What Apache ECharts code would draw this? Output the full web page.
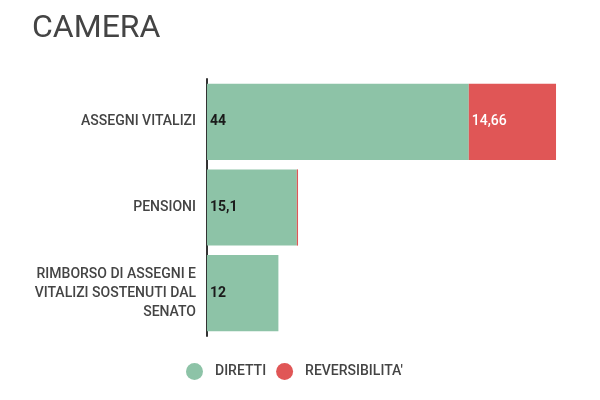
<!DOCTYPE html>
<html><head><meta charset="utf-8">
<script src="https://cdn.jsdelivr.net/npm/echarts@6/dist/echarts.min.js"></script>
<style>html,body{margin:0;padding:0;background:#fff}#c{width:600px;height:400px}</style>
</head><body><div id="c"></div>
<script>
const categories = ["ASSEGNI VITALIZI", "PENSIONI", "RIMBORSO DI ASSEGNI E\nVITALIZI SOSTENUTI DAL\nSENATO"];
const diretti = [44, 15.1, 12];
const reversibilita = [14.66, 0.2, 0];
const fmt = v => String(v).replace('.', ',');
const chart = echarts.init(document.getElementById('c'));
chart.setOption({
  animation: false,
  title: { text: 'CAMERA', left: 27, top: 8, textStyle: { fontFamily: 'Roboto', fontSize: 32, fontWeight: 'normal', color: '#444' } },
  legend: {
    bottom: 15, left: 181, itemWidth: 17, itemHeight: 17, itemGap: 10, icon: 'circle',
    textStyle: { fontFamily: 'Roboto', fontSize: 14, fontWeight: 500, color: '#444', padding: [0, 0, 0, 7] },
    data: ['DIRETTI', "REVERSIBILITA'"]
  },
  grid: { left: 207, right: 36, top: 79, bottom: 64 },
  xAxis: { type: 'value', min: 0, max: 60, show: false },
  yAxis: {
    type: 'category', inverse: true, data: categories,
    axisLine: { show: true, lineStyle: { color: '#333', width: 2 } },
    axisTick: { show: false },
    axisLabel: { fontFamily: 'Roboto', fontSize: 14, fontWeight: 500, color: '#444', align: 'right', lineHeight: 19, margin: 11 }
  },
  series: [
    { name: 'DIRETTI', type: 'bar', stack: 't', data: diretti, barCategoryGap: '11%',
      itemStyle: { color: '#8dc3a7' },
      label: { show: true, position: 'insideLeft', offset: [-2, 0], fontFamily: 'Roboto', fontSize: 14, fontWeight: 'bold', color: '#1a1a1a', formatter: p => fmt(p.value) } },
    { name: "REVERSIBILITA'", type: 'bar', stack: 't', data: reversibilita,
      itemStyle: { color: '#e05656' },
      label: { show: true, position: 'insideLeft', offset: [-2, 0], fontFamily: 'Roboto', fontSize: 14, fontWeight: 500, color: '#fff', formatter: p => p.value >= 1 ? fmt(p.value) : '' } }
  ]
});
</script></body></html>
